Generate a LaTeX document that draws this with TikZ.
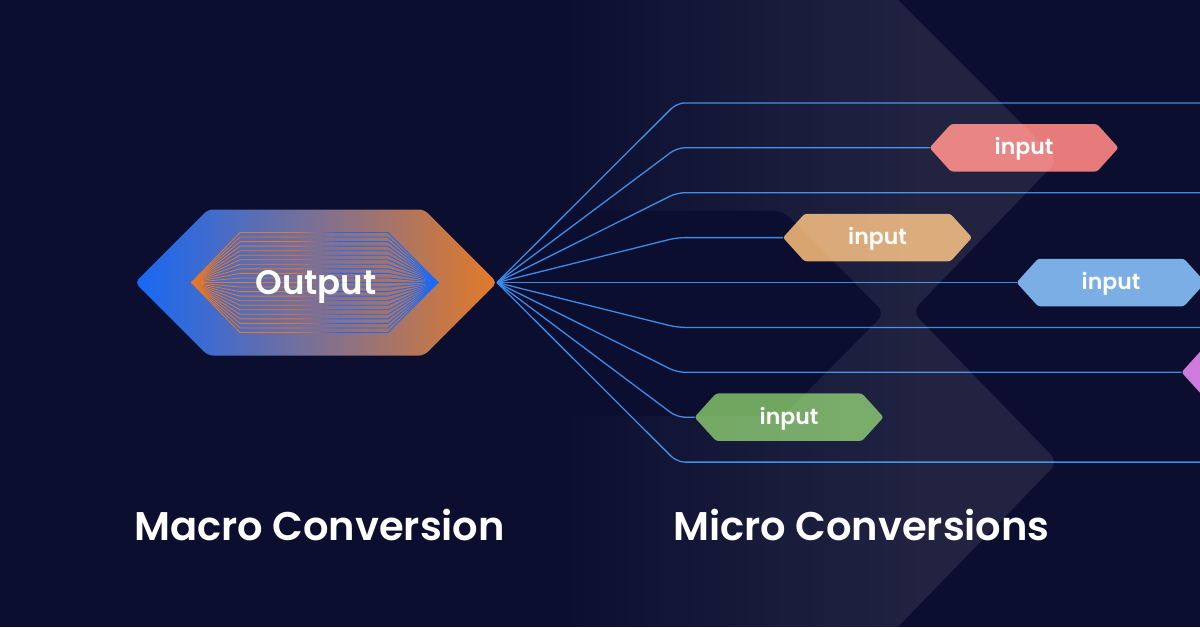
\documentclass[tikz,border=0pt]{standalone}
\usepackage{fontspec}
\setmainfont{Poppins}[UprightFont=* SemiBold, BoldFont=* Bold]
\definecolor{bg}{RGB}{11,14,47}
\definecolor{linec}{RGB}{58,140,232}
\definecolor{outblue}{RGB}{22,104,245}
\definecolor{outmid}{RGB}{124,112,148}
\definecolor{outorange}{RGB}{228,122,40}
\definecolor{fanorange}{RGB}{232,120,40}
\definecolor{fanblue}{RGB}{25,105,250}
\definecolor{inred}{RGB}{231,122,122}
\definecolor{inorange}{RGB}{216,165,112}
\definecolor{inblue}{RGB}{124,174,230}
\definecolor{inpurple}{RGB}{206,122,222}
\definecolor{ingreen}{RGB}{112,166,96}
\newcommand\fanlines{\foreach \k in {0,...,22}{\draw (191.5,282.5) -- (240,{232.5+\k*100/22}) -- (388,{232.5+\k*100/22}) -- (438,282.5);}}
\newcommand\inputhex[5]{%
  \fill[#4, rounded corners=2.5pt] ({#2-94.5},#3) -- ({#2-73},{#3-23.75}) -- ({#2+73},{#3-23.75}) -- ({#2+94.5},#3) -- ({#2+73},{#3+23.75}) -- ({#2-73},{#3+23.75}) -- cycle;
  \node[intext] (#1) at (#2,{#3+6.8}) {#5};
  \coordinate (#1w) at ({#2-94.5},#3);
}
\begin{document}
\begin{tikzpicture}[x=1pt,y=-1pt,
  conn/.style={draw=linec, line width=1.3pt, rounded corners=8pt},
  intext/.style={text=white, font=\fontsize{22}{22}\selectfont, inner sep=0pt, anchor=base},
  titletext/.style={text=white, font=\fontsize{40}{40}\selectfont, inner sep=0pt, anchor=base west},
  fan/.style={line width=0.85pt}]
\useasboundingbox (0,0) rectangle (1200,627);
\fill[bg] (0,0) rectangle (1200,627);

% output hexagon
\shade[left color=outblue, right color=outorange, middle color=outmid, rounded corners=5pt]
  (135,282.5) -- (208,209.5) -- (424,209.5) -- (497,282.5) -- (424,355.5) -- (208,355.5) -- cycle;
\begin{scope}
  \clip (0,0) rectangle (298,627);
  \begin{scope}[fan, draw=fanorange]\fanlines\end{scope}
\end{scope}
\foreach \i in {1,...,8}{
  \pgfmathtruncatemacro\p{\i*100/9}
  \begin{scope}
    \clip ({298+(\i-1)*5},0) rectangle ({298+\i*5},627);
    \begin{scope}[fan, draw=fanblue!\p!fanorange]\fanlines\end{scope}
  \end{scope}
}
\begin{scope}
  \clip (338,0) rectangle (1200,627);
  \begin{scope}[fan, draw=fanblue]\fanlines\end{scope}
\end{scope}
\node[text=white, font=\fontsize{34}{34}\selectfont, inner sep=0pt, anchor=base] (out) at (316,294) {Output};
\coordinate (outR) at (497,282.5);

% input nodes
\inputhex{in1}{1024}{147.8}{inred}{input}
\inputhex{in2}{877.5}{237.6}{inorange}{input}
\inputhex{in3}{1111}{282.5}{inblue}{input}
\inputhex{in4}{1276}{372.3}{inpurple}{}
\inputhex{in5}{789}{417.2}{ingreen}{input}

\coordinate (e1) at (1200,102.9);
\coordinate (e3) at (1200,192.7);
\coordinate (e6) at (1200,327.4);
\coordinate (e9) at (1200,462.1);

% connectors
\draw[conn] (outR) -- (677,102.9) -- (e1);
\draw[conn] (outR) -- (677,147.8) -- (in1w);
\draw[conn] (outR) -- (677,192.7) -- (e3);
\draw[conn] (outR) -- (677,237.6) -- (in2w);
\draw[conn] (outR) -- (in3w);
\draw[conn] (outR) -- (677,327.4) -- (e6);
\draw[conn] (outR) -- (677,372.3) -- (in4w);
\draw[conn] (outR) -- (677,417.2) -- (in5w);
\draw[conn] (outR) -- (677,462.1) -- (e9);

% translucent overlay
\begin{scope}
  \clip[rounded corners=10pt] (470,-10) -- (888,-10) -- (1058,160) -- (912,311.5) -- (1058,462) -- (888,637) -- (470,637) -- (470,416) -- (783,416) -- (885,313.25) -- (783,210.5) -- (470,210.5) -- cycle;
  \foreach \i in {0,...,25}{
    \pgfmathsetmacro\op{0.09*(\i+0.5)/26}
    \fill[white, fill opacity=\op] ({540+\i*15},-10) rectangle ({555+\i*15},637);
  }
  \fill[white, fill opacity=0.09] (930,-10) rectangle (1200,637);
\end{scope}

% titles
\node[titletext] (macro) at (134,540.5) {Macro Conversion};
\node[titletext] (micro) at (673,540) {Micro Conversions};
\end{tikzpicture}
\end{document}
